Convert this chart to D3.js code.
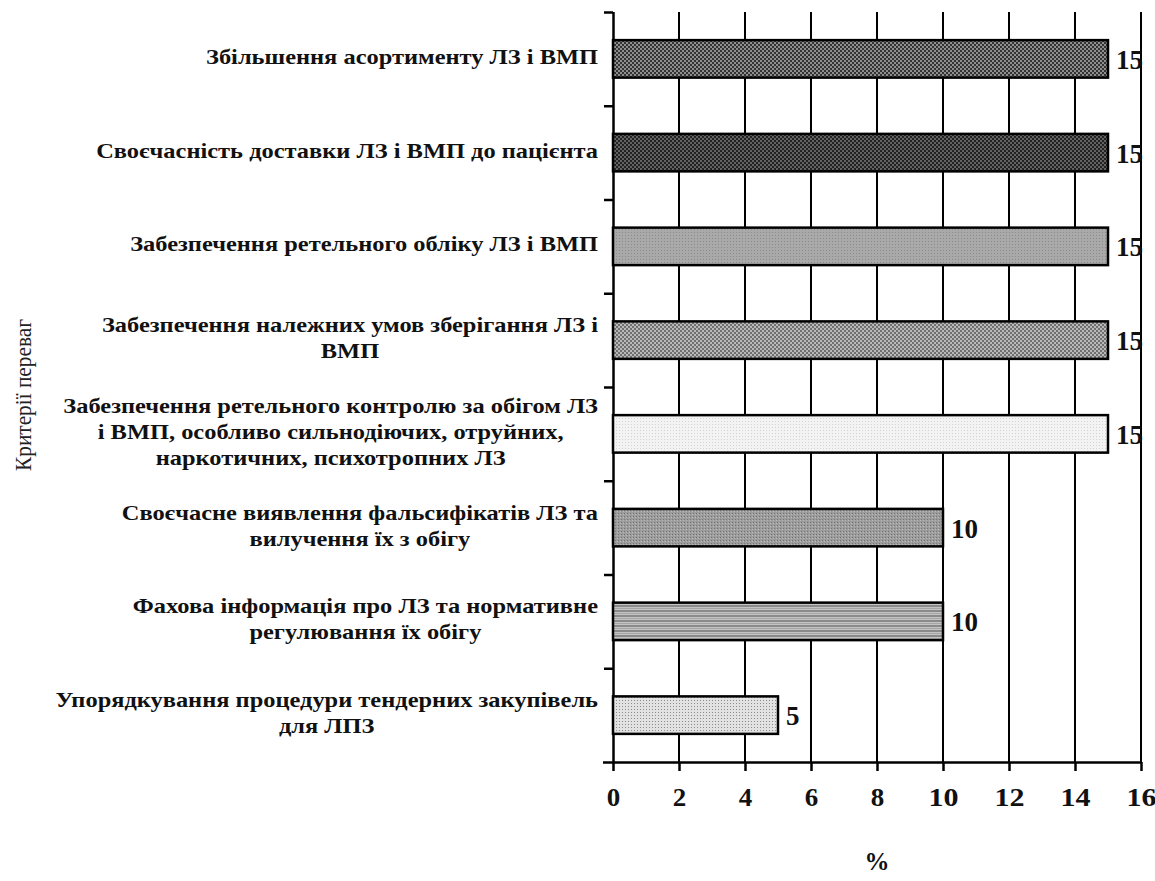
<!DOCTYPE html>
<html>
<head>
<meta charset="utf-8">
<script src="https://cdn.jsdelivr.net/npm/d3@7"></script>
<style>
  html, body { margin: 0; padding: 0; background: #fff; }
  svg { display: block; }
</style>
</head>
<body>
<svg id="chart" width="1155" height="881"></svg>
<script>
// ---------- DATA ----------
const categories = [
  ["Збільшення асортименту ЛЗ і ВМП"],
  ["Своєчасність доставки ЛЗ і ВМП до пацієнта"],
  ["Забезпечення ретельного обліку ЛЗ і ВМП"],
  ["Забезпечення належних умов зберігання ЛЗ і", "ВМП"],
  ["Забезпечення ретельного контролю за обігом ЛЗ", "і ВМП, особливо сильнодіючих, отруйних,", "наркотичних, психотропних ЛЗ"],
  ["Своєчасне виявлення фальсифікатів ЛЗ та", "вилучення їх з обігу"],
  ["Фахова інформація про ЛЗ та нормативне", "регулювання їх обігу"],
  ["Упорядкування процедури тендерних закупівель", "для ЛПЗ"]
];
const values = [15, 15, 15, 15, 15, 10, 10, 5];
const xTicks = [0, 2, 4, 6, 8, 10, 12, 14, 16];
const xTitle = "%";
const yTitle = "Критерії переваг";

// ---------- STYLE ----------
const SERIF = "Liberation Serif, Times New Roman, DejaVu Serif, serif";
const patternStyles = [
  { bg: "#333333", dot: "#8e8e8e", size: 4, kind: "checker" },
  { bg: "#222222", dot: "#626262", size: 4, kind: "checker" },
  { bg: "#a9a9a9", dot: "#8a8a8a", size: 3, kind: "dot" },
  { bg: "#707070", dot: "#b8b8b8", size: 4, kind: "checker" },
  { bg: "#f3f3f3", dot: "#d2d2d2", size: 3, kind: "dot" },
  { bg: "#9c9c9c", dot: "#767676", size: 3, kind: "checker3" },
  { bg: "#c4c4c4", dot: "#8a8a8a", size: 5, kind: "hstripe" },
  { bg: "#e2e2e2", dot: "#8c8c8c", size: 3, kind: "dot" }
];

const svg = d3.select("#chart");
const defs = svg.append("defs");

patternStyles.forEach((p, i) => {
  const pat = defs.append("pattern")
    .attr("id", "pat" + i)
    .attr("patternUnits", "userSpaceOnUse")
    .attr("width", p.size).attr("height", p.size);
  pat.append("rect").attr("width", p.size).attr("height", p.size).attr("fill", p.bg);
  if (p.kind === "checker") {
    pat.append("rect").attr("x", 0).attr("y", 0).attr("width", 2).attr("height", 2).attr("fill", p.dot);
    pat.append("rect").attr("x", 2).attr("y", 2).attr("width", 2).attr("height", 2).attr("fill", p.dot);
  } else if (p.kind === "checker3") {
    pat.append("rect").attr("x", 0).attr("y", 0).attr("width", 1).attr("height", 1).attr("fill", p.dot);
    pat.append("rect").attr("x", 2).attr("y", 1).attr("width", 1).attr("height", 1).attr("fill", "#bcbcbc");
  } else if (p.kind === "dot") {
    pat.append("rect").attr("x", 1).attr("y", 1).attr("width", 1).attr("height", 1).attr("fill", p.dot);
  } else if (p.kind === "hstripe") {
    pat.append("rect").attr("x", 0).attr("y", 0).attr("width", p.size).attr("height", 2).attr("fill", p.dot);
    pat.append("rect").attr("x", 0).attr("y", 3).attr("width", p.size).attr("height", 1).attr("fill", "#a6a6a6");
  }
});

// ---------- SCALES ----------
const plotLeft = 613, plotRight = 1141, plotTop = 12, plotBottom = 762;
const x = d3.scaleLinear().domain([0, 16]).range([plotLeft, plotRight]);
const idx = d3.range(categories.length);
const y = d3.scaleBand().domain(idx).range([plotTop, plotBottom]).paddingInner(0.6).paddingOuter(0.3);
const yb = d3.scaleLinear().domain([0, categories.length]).range([plotTop, plotBottom]);
const digitW = 13.5;

// gridlines
svg.append("g")
  .selectAll("line")
  .data(xTicks.filter(t => t > 0))
  .join("line")
  .attr("x1", d => x(d)).attr("x2", d => x(d))
  .attr("y1", plotTop).attr("y2", plotBottom)
  .attr("stroke", "#000").attr("stroke-width", 2);

// x axis
const xAxis = svg.append("g")
  .attr("transform", `translate(0,${plotBottom})`)
  .call(d3.axisBottom(x).tickValues(xTicks).tickSize(9).tickPadding(14).tickFormat(d3.format("d")));
xAxis.select(".domain").attr("d", `M${plotLeft - 10},0.5H${plotRight}`).attr("stroke", "#000").attr("stroke-width", 2.5);
xAxis.selectAll(".tick line").attr("stroke", "#000").attr("stroke-width", 2.5);
xAxis.selectAll(".tick text")
  .attr("font-family", SERIF).attr("font-weight", "bold").attr("font-size", 26)
  .attr("fill", "#111").attr("dy", "0.8em")
  .attr("textLength", d => String(d).length * digitW + (String(d).length - 1) * 3)
  .attr("lengthAdjust", "spacingAndGlyphs");

// y axis (ticks at band boundaries)
const yAxis = svg.append("g")
  .attr("transform", `translate(${plotLeft},0)`)
  .call(d3.axisLeft(yb).tickValues(d3.range(categories.length)).tickSize(9).tickFormat(""));
yAxis.select(".domain").attr("d", `M0.5,${plotTop}V${plotBottom}`).attr("stroke", "#000").attr("stroke-width", 2.5);
yAxis.selectAll(".tick line").attr("stroke", "#000").attr("stroke-width", 2.5);

// bars
svg.append("g")
  .selectAll("rect")
  .data(values)
  .join("rect")
  .attr("x", x(0))
  .attr("y", (d, i) => y(i))
  .attr("width", d => x(d) - x(0))
  .attr("height", y.bandwidth())
  .attr("fill", (d, i) => `url(#pat${i})`)
  .attr("stroke", "#000").attr("stroke-width", 2.5);

// value labels
svg.append("g")
  .selectAll("text")
  .data(values)
  .join("text")
  .attr("x", d => x(d) + 8)
  .attr("y", (d, i) => y(i) + y.bandwidth() / 2 + 10)
  .attr("font-family", SERIF).attr("font-weight", "bold").attr("font-size", 27)
  .attr("textLength", d => String(d).length * digitW)
  .attr("lengthAdjust", "spacingAndGlyphs")
  .attr("fill", "#111")
  .text(d => d);

// category labels (center-aligned lines, block right-aligned)
const labelRight = 598, lineH = 26, fs = 21, firstLabelWidth = 392;
const lg = svg.append("g");
let squeeze = null;
categories.forEach((lines, i) => {
  const g = lg.append("g");
  const cy = y(i) + y.bandwidth() / 2;
  const texts = lines.map((ln, k) => g.append("text")
    .attr("font-family", SERIF).attr("font-weight", "bold").attr("font-size", fs)
    .attr("fill", "#111")
    .attr("y", cy + (k - (lines.length - 1) / 2) * lineH + 5)
    .text(ln));
  if (squeeze === null) squeeze = firstLabelWidth / texts[0].node().getComputedTextLength();
  const widths = texts.map(t => t.node().getComputedTextLength() * squeeze);
  const maxW = d3.max(widths);
  const cx = labelRight - maxW / 2;
  texts.forEach((t, k) => {
    t.attr("x", cx - widths[k] / 2)
     .attr("textLength", widths[k])
     .attr("lengthAdjust", "spacingAndGlyphs");
  });
});

// axis titles
svg.append("text")
  .attr("x", (plotLeft + plotRight) / 2)
  .attr("y", 870)
  .attr("text-anchor", "middle")
  .attr("font-family", SERIF).attr("font-weight", "bold").attr("font-size", 25)
  .attr("fill", "#111")
  .text(xTitle);

svg.append("text")
  .attr("transform", "translate(31,395) rotate(-90)")
  .attr("text-anchor", "middle")
  .attr("font-family", SERIF).attr("font-size", 23)
  .attr("textLength", 152)
  .attr("lengthAdjust", "spacingAndGlyphs")
  .attr("fill", "#222")
  .text(yTitle);
</script>
</body>
</html>
